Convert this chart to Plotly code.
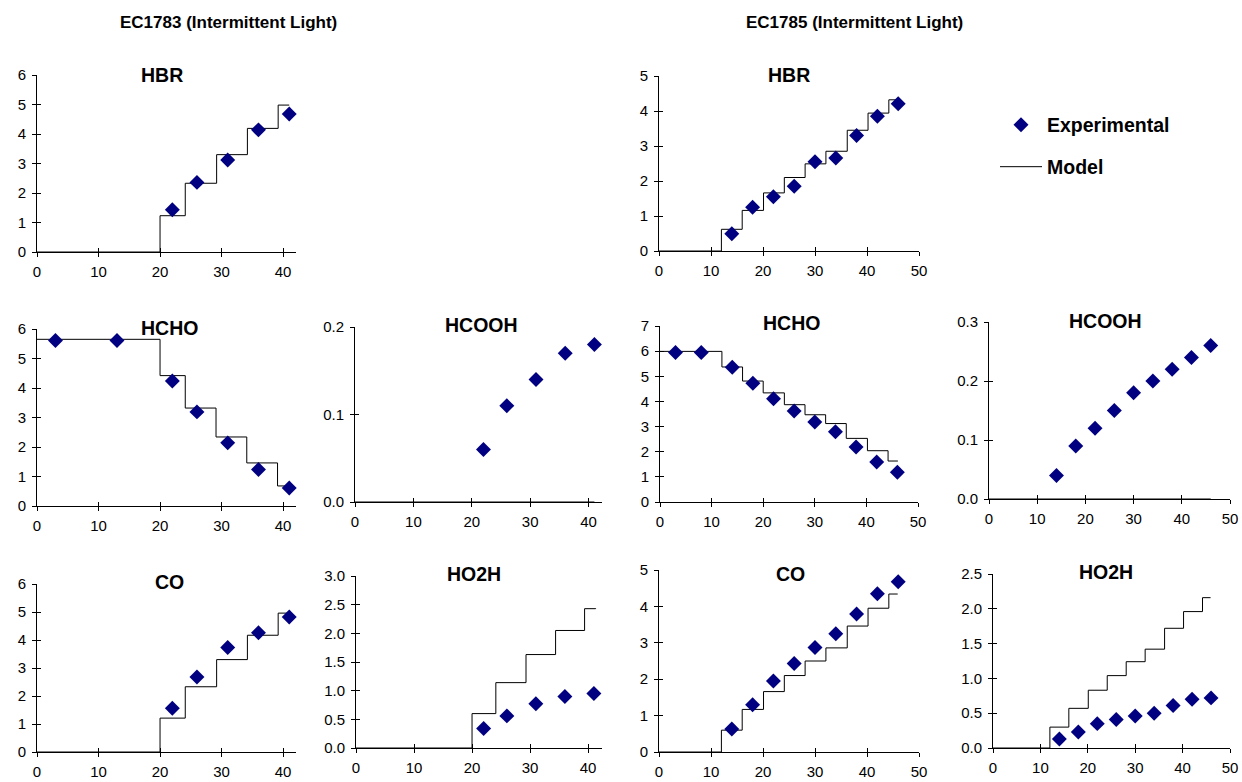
import plotly.graph_objects as go

FONT = "Liberation Sans, Arial, Helvetica, sans-serif"
NAVY = "#000080"

# ---------------- EC1783 (Intermittent Light) ----------------
L_EXP_T = [22, 26, 31, 36, 41]
L_HCHO_EXP_T = [3, 13, 22, 26, 31, 36, 41]
L_HBR_EXP = [1.43, 2.36, 3.12, 4.14, 4.68]
L_HCHO_EXP = [5.61, 5.61, 4.24, 3.19, 2.14, 1.24, 0.61]
L_HCOOH_EXP = [0.06, 0.11, 0.14, 0.17, 0.18]
L_CO_EXP = [1.56, 2.68, 3.73, 4.26, 4.82]
L_HO2H_EXP = [0.34, 0.56, 0.77, 0.90, 0.95]

L_MODEL_T = [0, 20, 24.1, 29.2, 34.2, 39.2, 41]
L_HCHO_MODEL_T = [0, 20, 24.1, 29.1, 34.1, 39.1, 40.8]
L_HO2H_MODEL_T = [0, 20, 24.1, 29.3, 34.4, 39.4, 41.3]
L_HCOOH_MODEL_T = [0, 41]
L_HBR_MODEL = [0, 1.23, 2.33, 3.30, 4.19, 4.98, 4.98]
L_HCHO_MODEL = [5.65, 4.42, 3.32, 2.34, 1.46, 0.68, 0.68]
L_HCOOH_MODEL = [0, 0]
L_CO_MODEL = [0, 1.21, 2.33, 3.30, 4.17, 4.96, 4.96]
L_HO2H_MODEL = [0, 0.60, 1.14, 1.63, 2.05, 2.43, 2.44]

# ---------------- EC1785 (Intermittent Light) ----------------
R_EXP_T = [14, 18, 22, 26, 30, 34, 38, 42, 46]
R_HCHO_EXP_T = [3, 8, 14, 18, 22, 26, 30, 34, 38, 42, 46]
R_HBR_EXP = [0.49, 1.25, 1.55, 1.85, 2.55, 2.66, 3.30, 3.85, 4.21]
R_HCHO_EXP = [5.95, 5.95, 5.36, 4.72, 4.11, 3.62, 3.18, 2.79, 2.19, 1.59, 1.18]
R_HCOOH_EXP = [0.04, 0.09, 0.12, 0.15, 0.18, 0.20, 0.22, 0.24, 0.26]
R_CO_EXP = [0.63, 1.30, 1.95, 2.43, 2.87, 3.25, 3.79, 4.35, 4.68]
R_HO2H_EXP = [0.13, 0.23, 0.35, 0.41, 0.46, 0.50, 0.61, 0.70, 0.72]

R_MODEL_T = [0, 12, 16, 20.1, 24.1, 28.1, 32.1, 36.2, 40.2, 44.2, 45.9]
R_HCHO_MODEL_T = [0, 12, 16, 20, 24.1, 28.1, 32.1, 36.1, 40.2, 44.2, 46.1]
R_HCOOH_MODEL_T = [0, 46]
R_HBR_MODEL = [0, 0.62, 1.16, 1.66, 2.10, 2.49, 2.85, 3.45, 3.94, 4.32, 4.32]
R_HCHO_MODEL = [5.99, 5.37, 4.81, 4.34, 3.87, 3.47, 3.12, 2.53, 2.04, 1.63, 1.63]
R_HCOOH_MODEL = [0, 0]
R_CO_MODEL = [0, 0.60, 1.17, 1.66, 2.10, 2.50, 2.86, 3.46, 3.95, 4.34, 4.34]
R_HO2H_MODEL = [0, 0.30, 0.57, 0.83, 1.04, 1.24, 1.42, 1.72, 1.96, 2.16, 2.16]

GROUP_TITLES = ["EC1783 (Intermittent Light)", "EC1785 (Intermittent Light)"]
LEGEND_NAMES = ["Experimental", "Model"]

W, H = 1242, 782


def xd(a, b):
    return [a / W, b / W]


def yd(top, bottom):
    return [1 - bottom / H, 1 - top / H]


panels = [
    dict(name="HBR", et=L_EXP_T, ev=L_HBR_EXP, mt=L_MODEL_T, mv=L_HBR_MODEL,
         px=(37, 296), py=(75, 252), xmax=42.1, ymax=6, dy=1, fmt="", tx=162, ty=75),
    dict(name="HBR", et=R_EXP_T, ev=R_HBR_EXP, mt=R_MODEL_T, mv=R_HBR_MODEL,
         px=(659, 919), py=(76, 251), xmax=50, ymax=5, dy=1, fmt="", tx=789, ty=75),
    dict(name="HCHO", et=L_HCHO_EXP_T, ev=L_HCHO_EXP, mt=L_HCHO_MODEL_T, mv=L_HCHO_MODEL,
         px=(37, 296), py=(329, 506), xmax=42.1, ymax=6, dy=1, fmt="", tx=169, ty=328),
    dict(name="HCOOH", et=L_EXP_T, ev=L_HCOOH_EXP, mt=L_HCOOH_MODEL_T, mv=L_HCOOH_MODEL,
         px=(355, 602), py=(327, 502), xmax=42.3, ymax=0.2, dy=0.1, fmt=".1f", tx=481, ty=325),
    dict(name="HCHO", et=R_HCHO_EXP_T, ev=R_HCHO_EXP, mt=R_HCHO_MODEL_T, mv=R_HCHO_MODEL,
         px=(660, 918), py=(326, 502), xmax=50, ymax=7, dy=1, fmt="", tx=792, ty=323),
    dict(name="HCOOH", et=R_EXP_T, ev=R_HCOOH_EXP, mt=R_HCOOH_MODEL_T, mv=R_HCOOH_MODEL,
         px=(989, 1230), py=(322, 499), xmax=50, ymax=0.3, dy=0.1, fmt=".1f", tx=1105, ty=321),
    dict(name="CO", et=L_EXP_T, ev=L_CO_EXP, mt=L_MODEL_T, mv=L_CO_MODEL,
         px=(37, 296), py=(584, 752), xmax=42.1, ymax=6, dy=1, fmt="", tx=169, ty=582),
    dict(name="HO2H", et=L_EXP_T, ev=L_HO2H_EXP, mt=L_HO2H_MODEL_T, mv=L_HO2H_MODEL,
         px=(356, 602), py=(576, 748), xmax=42.4, ymax=3, dy=0.5, fmt=".1f", tx=474, ty=574),
    dict(name="CO", et=R_EXP_T, ev=R_CO_EXP, mt=R_MODEL_T, mv=R_CO_MODEL,
         px=(659, 919), py=(570, 752), xmax=50, ymax=5, dy=1, fmt="", tx=790, ty=574),
    dict(name="HO2H", et=R_EXP_T, ev=R_HO2H_EXP, mt=R_MODEL_T, mv=R_HO2H_MODEL,
         px=(993, 1230), py=(574, 748), xmax=50, ymax=2.5, dy=0.5, fmt=".1f", tx=1106, ty=572),
]

fig = go.Figure()
layout_axes = {}
annotations = []
TICKFONT = dict(family=FONT, size=15, color="black")

for i, p in enumerate(panels, 1):
    xa, ya = f"x{i}", f"y{i}"
    xo, yo = f"x{i + 10}", f"y{i + 10}"
    fig.add_trace(go.Scatter(
        x=p["mt"], y=p["mv"], mode="lines", name=LEGEND_NAMES[1],
        line=dict(color="black", width=1, shape="hv"),
        xaxis=xa, yaxis=ya, showlegend=(i == 2), legend="legend2", hoverinfo="skip"))
    fig.add_trace(go.Scatter(
        x=p["et"], y=p["ev"], mode="markers", name=LEGEND_NAMES[0],
        marker=dict(symbol="diamond", color=NAVY, size=11.5, line=dict(width=0)),
        xaxis=xa, yaxis=ya, showlegend=(i == 2), legend="legend", cliponaxis=False))
    # overlay axes that draw the inner half of the crossing tick marks
    fig.add_trace(go.Scatter(x=[], y=[], xaxis=xo, yaxis=yo, showlegend=False, hoverinfo="skip"))

    common = dict(showgrid=False, zeroline=False, ticklen=4, tickwidth=1, tickcolor="black",
                  automargin=False)
    layout_axes[f"xaxis{i}"] = dict(
        domain=xd(*p["px"]), range=[0, p["xmax"]], tick0=0, dtick=10, anchor=ya,
        ticks="outside", showline=True, linecolor="black", linewidth=1,
        tickfont=TICKFONT, ticklabelstandoff=2, **common)
    layout_axes[f"yaxis{i}"] = dict(
        domain=yd(*p["py"]), range=[0, p["ymax"]], tick0=0, dtick=p["dy"], anchor=xa,
        tickformat=p["fmt"], ticks="outside", showline=True, linecolor="black", linewidth=1,
        tickfont=TICKFONT, ticklabelstandoff=3, **common)
    layout_axes[f"xaxis{i + 10}"] = dict(
        overlaying=xa, anchor=yo, side="bottom", range=[0, p["xmax"]], tick0=0, dtick=10,
        ticks="inside", showticklabels=False, showline=False, **common)
    layout_axes[f"yaxis{i + 10}"] = dict(
        overlaying=ya, anchor=xo, side="left", range=[0, p["ymax"]], tick0=0, dtick=p["dy"],
        ticks="inside", showticklabels=False, showline=False, **common)

    annotations.append(dict(
        text=f"<b>{p['name']}</b>", x=p["tx"] / W, y=1 - p["ty"] / H, xref="paper", yref="paper",
        xanchor="center", yanchor="middle", showarrow=False,
        font=dict(family=FONT, size=19.5, color="black")))

for txt, cx in zip(GROUP_TITLES, [228, 855]):
    annotations.append(dict(
        text=f"<b>{txt}</b>", x=cx / W, y=1 - 22 / H, xref="paper", yref="paper",
        xanchor="center", yanchor="middle", showarrow=False,
        font=dict(family=FONT, size=17, color="black")))

LEGFONT = dict(family=FONT, size=19.5, color="black", weight="bold")
fig.update_layout(
    template="none",
    width=W, height=H, autosize=False,
    margin=dict(l=0, r=0, t=0, b=0, pad=0),
    paper_bgcolor="white", plot_bgcolor="rgba(0,0,0,0)",
    font=dict(family=FONT, color="black"),
    annotations=annotations,
    legend=dict(x=995 / W, y=1 - 125 / H, xanchor="left", yanchor="middle",
                font=LEGFONT, bgcolor="rgba(0,0,0,0)", itemwidth=42, borderwidth=0),
    legend2=dict(x=995 / W, y=1 - 167 / H, xanchor="left", yanchor="middle",
                 font=LEGFONT, bgcolor="rgba(0,0,0,0)", itemwidth=42, borderwidth=0),
    **layout_axes,
)

fig.write_html("out.html", config={"displayModeBar": False},
               post_script="document.body.style.margin='0';")
